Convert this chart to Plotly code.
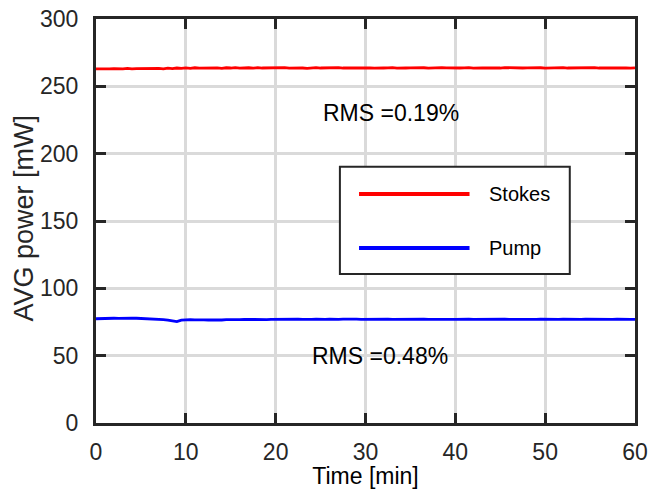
import plotly.graph_objects as go

# ---- data ----
time_min = [i * 0.5 for i in range(121)]

stokes_mw = [
    263.0, 262.8, 263.1, 262.9, 263.2, 262.9, 263.0, 263.3, 262.9, 263.1,
    263.2, 263.0, 263.4, 263.1, 263.3, 263.0, 263.5, 263.2, 263.6, 263.3,
    263.7, 263.4, 263.8, 263.5, 263.6, 263.9, 263.5, 263.7, 263.4, 263.8,
    263.6, 263.9, 263.5, 263.7, 263.8, 263.5, 263.9, 263.6, 263.7, 263.4,
    263.8, 263.6, 263.9, 263.5, 263.7, 263.8, 263.6, 263.4, 263.7, 263.9,
    263.6, 263.8, 263.5, 263.7, 263.9, 263.6, 263.8, 263.5, 263.7, 263.6,
    263.9, 263.7, 263.5, 263.8, 263.6, 263.7, 263.9, 263.5, 263.8, 263.6,
    263.7, 263.9, 263.6, 263.8, 263.5, 263.7, 263.6, 263.9, 263.7, 263.5,
    263.8, 263.6, 263.7, 263.9, 263.5, 263.8, 263.6, 263.7, 263.5, 263.8,
    263.6, 263.9, 263.7, 263.5, 263.8, 263.6, 263.7, 263.9, 263.6, 263.8,
    263.5, 263.7, 263.6, 263.8, 263.9, 263.6, 263.7, 263.5, 263.8, 263.6,
    263.7, 263.9, 263.6, 263.8, 263.5, 263.7, 263.6, 263.8, 263.7, 263.5,
    263.7,
]

pump_mw = [
    77.4, 77.6, 77.5, 77.7, 77.8, 77.7, 77.9, 77.8, 77.9, 77.8,
    77.7, 77.6, 77.4, 77.3, 77.1, 76.8, 76.4, 76.0, 75.3, 76.4,
    76.7, 76.8, 76.6, 76.8, 76.6, 76.5, 76.4, 76.6, 76.5, 76.7,
    76.6, 76.8, 76.7, 76.9, 76.8, 76.7, 76.9, 77.0, 76.8, 76.9,
    77.0, 76.9, 77.1, 77.0, 76.9, 77.1, 77.0, 76.8, 77.0, 77.1,
    76.9, 77.0, 77.1, 76.9, 77.0, 77.2, 77.0, 76.9, 77.1, 77.0,
    77.1, 76.9, 77.0, 77.2, 77.0, 77.1, 76.9, 77.0, 77.1, 77.0,
    76.9, 77.1, 77.0, 77.2, 77.0, 76.9, 77.1, 77.0, 77.1, 76.9,
    77.0, 77.2, 77.0, 77.1, 76.9, 77.0, 77.1, 77.0, 76.9, 77.1,
    77.0, 77.1, 77.0, 76.9, 77.2, 77.0, 77.1, 77.0, 76.9, 77.1,
    77.0, 77.1, 76.9, 77.0, 77.2, 77.0, 77.1, 77.0, 76.9, 77.1,
    77.0, 77.1, 77.0, 76.9, 77.1, 77.0, 77.2, 77.0, 77.1, 77.0,
    77.0,
]

series_names = ["Stokes", "Pump"]
series_colors = ["#ff0000", "#0000ff"]
rms_labels = ["RMS =0.19%", "RMS =0.48%"]
rms_pos = [(32.8, 230), (31.6, 50)]

x_ticks = [0, 10, 20, 30, 40, 50, 60]
y_ticks = [0, 50, 100, 150, 200, 250, 300]

FONT = "Liberation Sans, Arial, sans-serif"
DARK = "#262626"

fig = go.Figure()
for name, ys, col in zip(series_names, [stokes_mw, pump_mw], series_colors):
    fig.add_trace(go.Scatter(x=time_min, y=ys, mode="lines", name=name,
                             line=dict(color=col, width=2.8), showlegend=False))

# RMS annotations
for txt, (ax_, ay_) in zip(rms_labels, rms_pos):
    fig.add_annotation(x=ax_, y=ay_, xref="x", yref="y", text=txt, showarrow=False,
                       font=dict(family=FONT, size=23, color="#000000"))

# y-axis title
fig.add_annotation(x=-0.134, y=0.508, xref="paper", yref="paper", text="AVG power [mW]",
                   showarrow=False, textangle=-90, xanchor="center", yanchor="middle",
                   font=dict(family=FONT, size=27, color=DARK))

# manual legend
shapes = [dict(type="rect", xref="paper", yref="paper", x0=0.4525, x1=0.879, y0=0.369, y1=0.634,
               line=dict(color=DARK, width=2), fillcolor="white", layer="above")]
leg_y = [0.567, 0.433]
for y_, col in zip(leg_y, series_colors):
    shapes.append(dict(type="line", xref="paper", yref="paper", x0=0.488, x1=0.693, y0=y_, y1=y_,
                       line=dict(color=col, width=4), layer="above"))
for y_, name in zip(leg_y, series_names):
    fig.add_annotation(x=0.726, y=y_, xref="paper", yref="paper", text=name, showarrow=False,
                       xanchor="left", yanchor="middle",
                       font=dict(family=FONT, size=20, color="#000000"))

fig.update_layout(
    width=651, height=489,
    margin=dict(l=96, r=16, t=19, b=66),
    paper_bgcolor="white", plot_bgcolor="white",
    font=dict(family=FONT, size=23, color=DARK),
    shapes=shapes,
)
fig.update_xaxes(
    range=[0, 60], tickvals=x_ticks, showgrid=True, gridcolor="#dadada", gridwidth=3,
    showline=True, linecolor=DARK, linewidth=3, mirror="ticks",
    ticks="inside", ticklen=10, tickwidth=3, tickcolor=DARK, automargin=False,
    zeroline=False, tickfont=dict(size=23, color=DARK), ticklabelstandoff=6,
    title=dict(text="Time [min]", font=dict(size=23, color="#000000")),
)
fig.update_yaxes(
    range=[0, 300], tickvals=y_ticks, showgrid=True, gridcolor="#dadada", gridwidth=3,
    showline=True, linecolor=DARK, linewidth=3, mirror="ticks",
    ticks="inside", ticklen=10, tickwidth=3, tickcolor=DARK, automargin=False,
    zeroline=False, tickfont=dict(size=23, color=DARK), ticklabelstandoff=10,
)

fig.write_html("out.html")
